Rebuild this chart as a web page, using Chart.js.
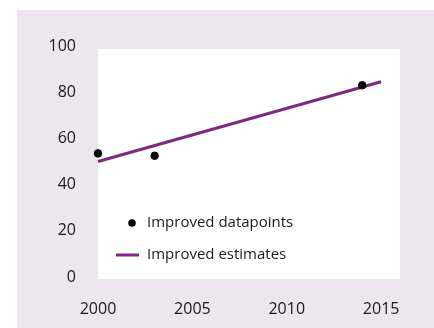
<html>
<head>
<script src="https://cdn.jsdelivr.net/npm/chart.js@4/dist/chart.umd.min.js"></script>
<style>
  body { margin: 0; background: #fff; }
  #panel { position: absolute; left: 17px; top: 10px; width: 417px; height: 318px; background: #ede6f1; }
</style>
</head>
<body>
<div id="panel"><canvas id="myChart" width="417" height="318"></canvas></div>
<script>
// data
var pointYears = [2000, 2003, 2014];
var pointValues = [53.5, 52.5, 83];
var estYears = [2000, 2015];
var estValues = [50, 84.5];
var xTicks = [2000, 2005, 2010, 2015];
var yTicks = [0, 20, 40, 60, 80, 100];

var FONT = "'Open Sans', sans-serif";
var purple = "#7c2a80";
var textCol = "#1a1a1a";

// white plot box behind the marks
var plotBox = {
  id: 'plotBox',
  beforeDatasetsDraw: function (chart) {
    var ctx = chart.ctx, y = chart.scales.y;
    var top = y.getPixelForValue(98.7), bottom = y.getPixelForValue(-0.9);
    ctx.save();
    ctx.fillStyle = "#fff";
    ctx.fillRect(chart.chartArea.left, top, chart.chartArea.right - chart.chartArea.left, bottom - top);
    ctx.restore();
  }
};

// legend drawn inside the plot, lower left
var insideLegend = {
  id: 'insideLegend',
  afterDatasetsDraw: function (chart) {
    var ctx = chart.ctx, a = chart.chartArea;
    var ds = chart.data.datasets;
    ctx.save();
    ctx.font = "15px " + FONT;
    ctx.textBaseline = "middle";
    // datapoints
    ctx.beginPath();
    ctx.arc(a.left + 34, a.top + 177, 3.8, 0, Math.PI * 2);
    ctx.fillStyle = ds[0].backgroundColor;
    ctx.fill();
    ctx.fillStyle = textCol;
    ctx.fillText(ds[0].label, a.left + 49, a.top + 177);
    // estimates
    ctx.strokeStyle = ds[1].borderColor;
    ctx.lineWidth = 3;
    ctx.beginPath();
    ctx.moveTo(a.left + 18, a.top + 209);
    ctx.lineTo(a.left + 41, a.top + 209);
    ctx.stroke();
    ctx.fillText(ds[1].label, a.left + 49, a.top + 209);
    ctx.restore();
  }
};

var data = {
  datasets: [{
    type: 'scatter',
    label: "Improved datapoints",
    data: pointYears.map(function (v, i) { return { x: v, y: pointValues[i] }; }),
    backgroundColor: "#0a0505",
    borderColor: "#0a0505",
    pointRadius: 3.8,
    clip: false,
    order: 0
  }, {
    type: 'line',
    label: "Improved estimates",
    data: estYears.map(function (v, i) { return { x: v, y: estValues[i] }; }),
    borderColor: purple,
    backgroundColor: purple,
    borderWidth: 3,
    pointRadius: 0,
    fill: false,
    clip: false,
    order: 1
  }]
};

var ctx = document.getElementById("myChart").getContext("2d");
var myChart = new Chart(ctx, {
  data: data,
  plugins: [plotBox, insideLegend],
  options: {
    responsive: false,
    animation: false,
    layout: { padding: { top: 36, right: 34, left: 0, bottom: 0 } },
    plugins: { legend: { display: false }, tooltip: { enabled: false } },
    scales: {
      x: {
        type: 'linear', min: 2000, max: 2016,
        grid: { display: false, drawTicks: false },
        border: { display: false },
        afterBuildTicks: function (s) { s.ticks = xTicks.map(function (v) { return { value: v }; }); },
        afterFit: function (s) { s.height = 51; },
        ticks: { padding: 23, color: textCol, font: { family: FONT, size: 16 }, callback: function (v) { return String(v); } }
      },
      y: {
        min: 0, max: 100,
        grid: { display: false, drawTicks: false },
        border: { display: false },
        afterBuildTicks: function (s) { s.ticks = yTicks.map(function (v) { return { value: v }; }); },
        afterFit: function (s) { s.width = 81; },
        ticks: { padding: 22, color: textCol, font: { family: FONT, size: 16 } }
      }
    }
  }
});
</script>
</body>
</html>
